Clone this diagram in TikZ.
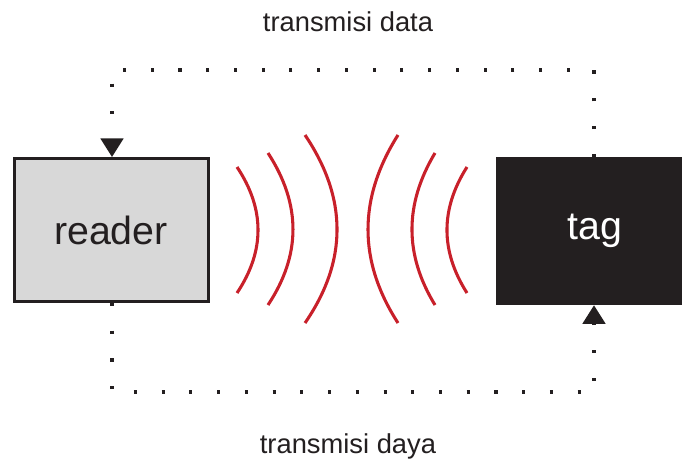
\documentclass[tikz,border=0pt]{standalone}
\usepackage{fontspec}
\setmainfont{Liberation Sans}
\usetikzlibrary{arrows.meta}
\definecolor{dark}{RGB}{35,31,32}
\definecolor{boxgray}{RGB}{216,216,216}
\definecolor{wavered}{RGB}{200,32,42}
\begin{document}
\begin{tikzpicture}[x=0.75pt,y=-0.75pt,
  readerbox/.style={draw=dark, line width=2.25pt, fill=boxgray, text=dark,
    minimum width=145.5pt, minimum height=107.25pt, inner sep=0pt,
    font=\fontsize{29.5pt}{32pt}\selectfont},
  tagbox/.style={fill=dark, text=white, minimum width=148.5pt, minimum height=111pt,
    inner sep=0pt, font=\fontsize{29.5pt}{32pt}\selectfont},
  caption/.style={text=dark, inner sep=0pt, font=\fontsize{20.5pt}{24pt}\selectfont},
  dotline/.style={draw=dark, line width=2.3pt, line cap=butt, dash pattern=on 2.3pt off 18.5pt},
  arr/.style={-{Triangle[width=17pt,length=14pt]}},
  wave/.style={draw=wavered, line width=2.3pt}]
\clip (0,0) rectangle (682,460);
\fill[white] (0,0) rectangle (682,460);
% boxes
\node[readerbox] (reader) at (111,230) {reader};
\node[tagbox] (tag) at (595,231) {tag};
% captions
\node[caption, anchor=base] (cdata) at (348,32) {transmisi data};
\node[caption, anchor=base] (cdaya) at (348,453) {transmisi daya};
% corner coordinates
\coordinate (tr) at (594,70);
\coordinate (tl) at (112,70);
\coordinate (bl) at (112,392);
\coordinate (br) at (594,392);
% dotted connectors
\draw[dotline, arr] (tag.north -| tr) -- (tr) -- (tl) -- (reader.north -| tl);
\draw[dotline, arr] (reader.south -| bl) -- (bl) -- (br) -- (tag.south -| br);
% waves
\draw[wave] (237,167) .. controls (265,209) and (265,251) .. (237,293);
\draw[wave] (268,153) .. controls (301.3,204.3) and (301.3,254.7) .. (268,305);
\draw[wave] (305,135) .. controls (347.7,198.3) and (347.7,261) .. (305,323);
\draw[wave] (398,135) .. controls (358,198.3) and (358,261) .. (398,323);
\draw[wave] (435,153) .. controls (404.3,204.3) and (404.3,254.7) .. (435,305);
\draw[wave] (467,167) .. controls (440.3,209) and (440.3,251) .. (467,293);
\end{tikzpicture}
\end{document}
